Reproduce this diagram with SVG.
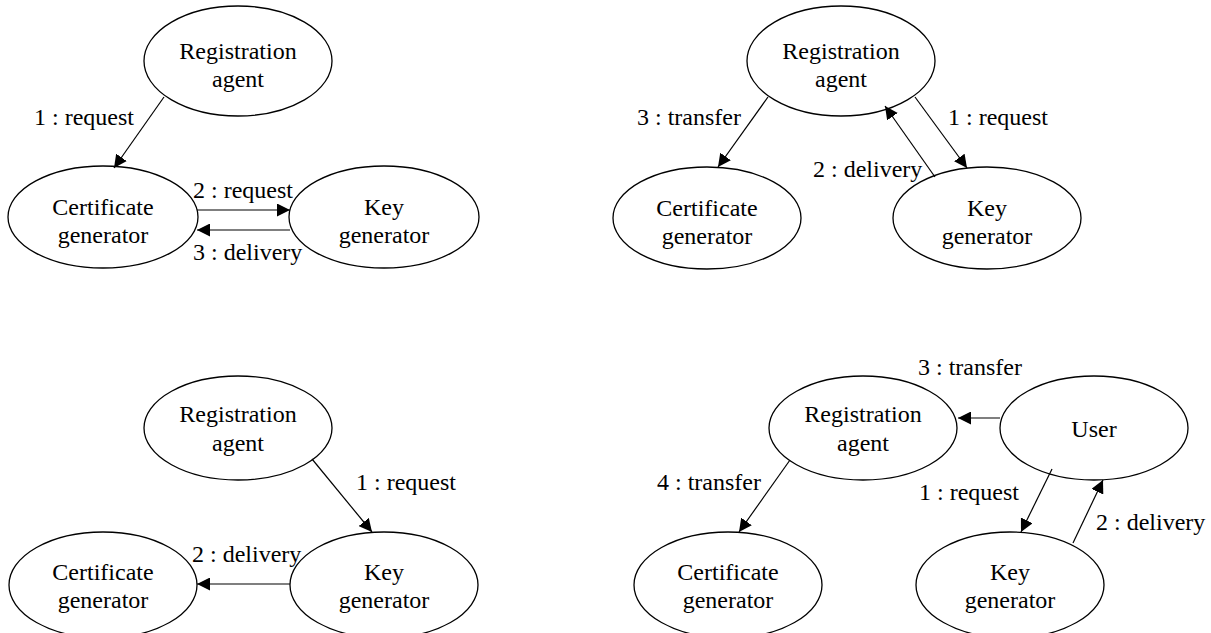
<svg xmlns="http://www.w3.org/2000/svg" width="1211" height="633" viewBox="0 0 1211 633">
  <style>
    .node ellipse { fill: #fff; stroke: #000; stroke-width: 1.3; }
    text { font-family: "Liberation Serif", "Times New Roman", serif; font-size: 24px; fill: #000; }
    .node text { text-anchor: middle; }
    .edge { stroke: #000; stroke-width: 1.2; fill: none; marker-end: url(#arrow); }
  </style>
  <defs>
    <marker id="arrow" viewBox="0 0 13 13" refX="13" refY="6.5" markerWidth="13" markerHeight="13" markerUnits="userSpaceOnUse" orient="auto">
      <path d="M0,0 L13,6.5 L0,13 Z" fill="#000"/>
    </marker>
  </defs>

  <rect width="1211" height="633" fill="#fff"/>

  <!-- Scenario A: top left -->
  <g id="a-registration-agent" class="node">
    <ellipse cx="238" cy="61" rx="94" ry="55"/>
    <text x="238" y="59">Registration</text>
    <text x="238" y="87">agent</text>
  </g>
  <g id="a-certificate-generator" class="node">
    <ellipse cx="103" cy="217" rx="95" ry="51"/>
    <text x="103" y="215">Certificate</text>
    <text x="103" y="243">generator</text>
  </g>
  <g id="a-key-generator" class="node">
    <ellipse cx="384" cy="217" rx="95" ry="51"/>
    <text x="384" y="215">Key</text>
    <text x="384" y="243">generator</text>
  </g>

  <!-- Scenario B: top right -->
  <g id="b-registration-agent" class="node">
    <ellipse cx="841" cy="61" rx="94" ry="55"/>
    <text x="841" y="59">Registration</text>
    <text x="841" y="87">agent</text>
  </g>
  <g id="b-certificate-generator" class="node">
    <ellipse cx="707" cy="218" rx="94" ry="51"/>
    <text x="707" y="216">Certificate</text>
    <text x="707" y="244">generator</text>
  </g>
  <g id="b-key-generator" class="node">
    <ellipse cx="987" cy="218" rx="94" ry="51"/>
    <text x="987" y="216">Key</text>
    <text x="987" y="244">generator</text>
  </g>

  <!-- Scenario C: bottom left -->
  <g id="c-registration-agent" class="node">
    <ellipse cx="238" cy="428" rx="94" ry="52"/>
    <text x="238" y="422">Registration</text>
    <text x="238" y="451">agent</text>
  </g>
  <g id="c-certificate-generator" class="node">
    <ellipse cx="103" cy="585" rx="94" ry="53"/>
    <text x="103" y="580">Certificate</text>
    <text x="103" y="608">generator</text>
  </g>
  <g id="c-key-generator" class="node">
    <ellipse cx="384" cy="585" rx="94" ry="53"/>
    <text x="384" y="580">Key</text>
    <text x="384" y="608">generator</text>
  </g>

  <!-- Scenario D: bottom right -->
  <g id="d-registration-agent" class="node">
    <ellipse cx="863" cy="428" rx="94" ry="52"/>
    <text x="863" y="422">Registration</text>
    <text x="863" y="451">agent</text>
  </g>
  <g id="d-user" class="node">
    <ellipse cx="1094" cy="428" rx="94" ry="52"/>
    <text x="1094" y="437">User</text>
  </g>
  <g id="d-certificate-generator" class="node">
    <ellipse cx="728" cy="585" rx="94" ry="53"/>
    <text x="728" y="580">Certificate</text>
    <text x="728" y="608">generator</text>
  </g>
  <g id="d-key-generator" class="node">
    <ellipse cx="1010" cy="585" rx="94" ry="53"/>
    <text x="1010" y="580">Key</text>
    <text x="1010" y="608">generator</text>
  </g>

  <!-- Messages -->
  <g id="connectors">
    <!-- A -->
    <line class="edge" x1="164" y1="97" x2="114" y2="168"/>
    <line class="edge" x1="197" y1="210" x2="290" y2="210"/>
    <line class="edge" x1="290" y1="230" x2="197" y2="230"/>
    <text x="34" y="125">1 : request</text>
    <text x="193" y="198">2 : request</text>
    <text x="193" y="260">3 : delivery</text>

    <!-- B -->
    <line class="edge" x1="768" y1="97" x2="718" y2="167"/>
    <line class="edge" x1="915" y1="97" x2="967" y2="168"/>
    <line class="edge" x1="935" y1="177" x2="885" y2="106"/>
    <text x="637" y="125">3 : transfer</text>
    <text x="948" y="125">1 : request</text>
    <text x="813" y="177">2 : delivery</text>

    <!-- C -->
    <line class="edge" x1="312" y1="459" x2="372" y2="532"/>
    <line class="edge" x1="290" y1="584" x2="197" y2="584"/>
    <text x="356" y="490">1 : request</text>
    <text x="192" y="562">2 : delivery</text>

    <!-- D -->
    <line class="edge" x1="1000" y1="418" x2="958" y2="418"/>
    <line class="edge" x1="790" y1="460" x2="739" y2="532"/>
    <line class="edge" x1="1052" y1="469" x2="1021" y2="532"/>
    <line class="edge" x1="1073" y1="543" x2="1103" y2="480"/>
    <text x="918" y="375">3 : transfer</text>
    <text x="657" y="490">4 : transfer</text>
    <text x="919" y="500">1 : request</text>
    <text x="1096" y="530">2 : delivery</text>
  </g>
</svg>
